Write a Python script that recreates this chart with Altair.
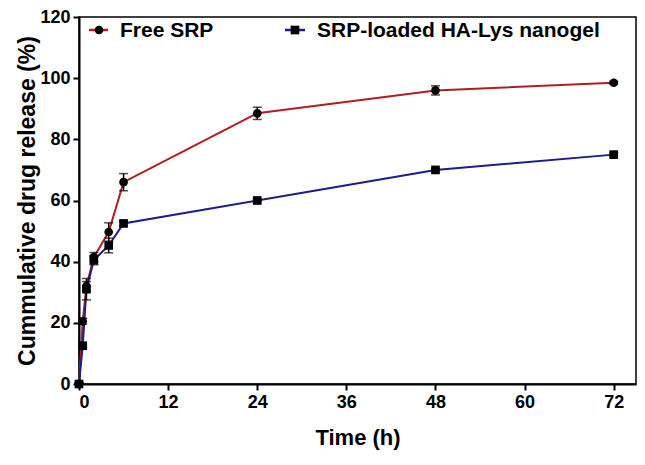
import altair as alt
import pandas as pd

# data
times = [0, 0.5, 1, 2, 4, 6, 24, 48, 72]
free_srp = [0, 20.5, 32.0, 41.5, 49.7, 66.0, 88.5, 96.0, 98.5]
free_err = [0.5, 1.0, 1.5, 1.5, 3.0, 2.8, 2.0, 1.5, 0.5]
nanogel = [0, 12.5, 31.0, 40.5, 45.3, 52.5, 60.0, 70.0, 75.0]
nano_err = [0.5, 0.5, 3.5, 1.5, 2.4, 0.8, 0.5, 0.5, 0.5]
series_names = ["Free SRP", "SRP-loaded HA-Lys nanogel"]
line_colors = ["#b01e23", "#1c1c8c"]
x_ticks = [0, 12, 24, 36, 48, 60, 72]
y_ticks = [0, 20, 40, 60, 80, 100, 120]

rows = []
for name, vals, errs in [(series_names[0], free_srp, free_err), (series_names[1], nanogel, nano_err)]:
    for t, v, e in zip(times, vals, errs):
        rows.append({"series": name, "time": t, "value": v, "lo": max(v - e, 0), "hi": v + e})
df = pd.DataFrame(rows)

FONT = "Liberation Sans"

x_enc = alt.X("time:Q", scale=alt.Scale(domain=[0, 75], nice=False, zero=False),
              axis=alt.Axis(values=x_ticks, title="Time (h)", titleFontSize=22,
                            titlePadding=16, format="d"))
y_enc = alt.Y("value:Q", scale=alt.Scale(domain=[0, 120], nice=False),
              axis=alt.Axis(values=y_ticks, title="Cummulative drug release (%)",
                            titleFontSize=23, titlePadding=0))

color_scale = alt.Scale(domain=series_names, range=line_colors)

base = alt.Chart(df)

lines = base.mark_line(strokeWidth=2).encode(
    x=x_enc, y=y_enc,
    color=alt.Color("series:N", scale=color_scale, legend=None),
    order="time:Q",
)

err_rules = base.mark_rule(color="black", strokeWidth=1.5).encode(
    x="time:Q", y="lo:Q", y2="hi:Q",
)
err_top = base.mark_tick(color="black", thickness=1.5, size=9, orient="horizontal").encode(
    x="time:Q", y="hi:Q",
)
err_bot = base.mark_tick(color="black", thickness=1.5, size=9, orient="horizontal").encode(
    x="time:Q", y="lo:Q",
)

points = base.mark_point(filled=True, opacity=1, color="black", size=75).encode(
    x="time:Q", y="value:Q",
    shape=alt.Shape("series:N", scale=alt.Scale(domain=series_names, range=["circle", "square"]), legend=None),
)

# manual legend (line + marker + text), as in the reference
leg = pd.DataFrame({
    "series": series_names,
    "x1": [10, 206], "x2": [29, 226], "mx": [20, 216], "tx": [41, 238],
})
leg_y = 13
leg_lines = alt.Chart(leg).mark_rule(strokeWidth=2.5).encode(
    x=alt.X("x1:Q", scale=None), x2="x2:Q", y=alt.value(leg_y),
    color=alt.Color("series:N", scale=color_scale, legend=None),
)
leg_pts = alt.Chart(leg).mark_point(filled=True, opacity=1, color="black", size=75).encode(
    x=alt.X("mx:Q", scale=None), y=alt.value(leg_y),
    shape=alt.Shape("series:N", scale=alt.Scale(domain=series_names, range=["circle", "square"]), legend=None),
)
leg_txt = alt.Chart(leg).mark_text(align="left", baseline="middle", font=FONT, fontSize=21,
                                   fontWeight="bold", color="black").encode(
    x=alt.X("tx:Q", scale=None), y=alt.value(leg_y + 1), text="series:N",
)

chart = alt.layer(lines, err_rules, err_top, err_bot, points, leg_lines, leg_pts, leg_txt).properties(
    width=557, height=367,
    padding={"left": 71, "top": 9, "right": 1, "bottom": 73},
    autosize=alt.AutoSizeParams(type="none"),
).configure_view(
    stroke="black", strokeWidth=1.5
).configure_axis(
    labelFont=FONT, titleFont=FONT, labelFontWeight="bold", titleFontWeight="bold",
    labelFontSize=18, labelColor="black", titleColor="black",
    domainColor="black", domainWidth=2, tickColor="black", tickWidth=2, tickSize=6,
    grid=False, labelPadding=3,
)

chart.save("out.html", embed_options={"renderer": "svg", "actions": False})
